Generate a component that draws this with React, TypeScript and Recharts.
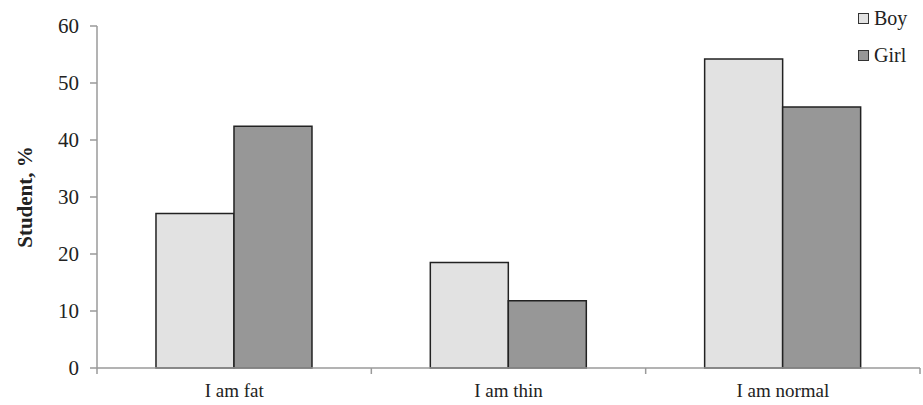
import { BarChart, Bar, XAxis, YAxis } from 'recharts';

const categories = ['I am fat', 'I am thin', 'I am normal'];
const boyValues = [27.1, 18.5, 54.2];
const girlValues = [42.4, 11.8, 45.8];
const yTicks = [0, 10, 20, 30, 40, 50, 60];

const data = categories.map((name, i) => ({
  name,
  boy: boyValues[i],
  girl: girlValues[i],
}));

const FONT = '"Liberation Serif", "DejaVu Serif", serif';
const AXIS = '#9a9a9a';

function CategoryTick(props: any) {
  const { x, y, payload, index, width } = props;
  const band = width / categories.length;
  const half = band / 2;
  return (
    <g>
      <line x1={x - half} y1={y} x2={x - half} y2={y + 6} stroke={AXIS} strokeWidth={1.5} />
      {index === categories.length - 1 && (
        <line x1={x + half} y1={y} x2={x + half} y2={y + 6} stroke={AXIS} strokeWidth={1.5} />
      )}
      <text x={x} y={y + 29} textAnchor="middle" fontFamily={FONT} fontSize={19} fill="#222">
        {payload.value}
      </text>
    </g>
  );
}

function LegendBox() {
  const items = [
    { label: 'Boy', color: '#e2e2e2' },
    { label: 'Girl', color: '#979797' },
  ];
  return (
    <div
      style={{
        position: 'absolute',
        left: 858,
        top: 0,
        fontFamily: FONT,
        fontSize: 20,
        color: '#222',
      }}
    >
      {items.map((it) => (
        <div key={it.label} style={{ display: 'flex', alignItems: 'center', height: 37 }}>
          <span
            style={{
              display: 'inline-block',
              width: 9,
              height: 9,
              background: it.color,
              border: '1.5px solid #333',
              marginRight: 5,
            }}
          />
          <span>{it.label}</span>
        </div>
      ))}
    </div>
  );
}

export default function App() {
  return (
    <div style={{ position: 'absolute', left: 0, top: 0, width: 923, height: 405, background: '#fff' }}>
      <BarChart
        width={923}
        height={405}
        data={data}
        margin={{ top: 26, right: 3, bottom: 0, left: 0 }}
        barCategoryGap="21.5%"
        barGap={0}
      >
        <XAxis
          dataKey="name"
          axisLine={{ stroke: AXIS, strokeWidth: 1.5 }}
          tickLine={false}
          tickSize={0}
          tickMargin={0}
          tick={<CategoryTick />}
          interval={0}
          height={37}
        />
        <YAxis
          domain={[0, 60]}
          ticks={yTicks}
          width={97}
          axisLine={{ stroke: AXIS, strokeWidth: 1.5 }}
          tickLine={{ stroke: AXIS, strokeWidth: 1.5 }}
          tickSize={7}
          tickMargin={11}
          tick={{ fontFamily: FONT, fontSize: 21, fill: '#222' }}
          label={() => (
            <text
              x={25}
              y={197}
              transform="rotate(-90, 25, 197)"
              textAnchor="middle"
              dominantBaseline="central"
              fontFamily={FONT}
              fontSize={21}
              fontWeight="bold"
              fill="#222"
            >
              Student, %
            </text>
          )}
        />
        <Bar dataKey="boy" name="Boy" fill="#e2e2e2" stroke="#222" strokeWidth={1.5} isAnimationActive={false} />
        <Bar dataKey="girl" name="Girl" fill="#979797" stroke="#222" strokeWidth={1.5} isAnimationActive={false} />
      </BarChart>
      <LegendBox />
    </div>
  );
}
